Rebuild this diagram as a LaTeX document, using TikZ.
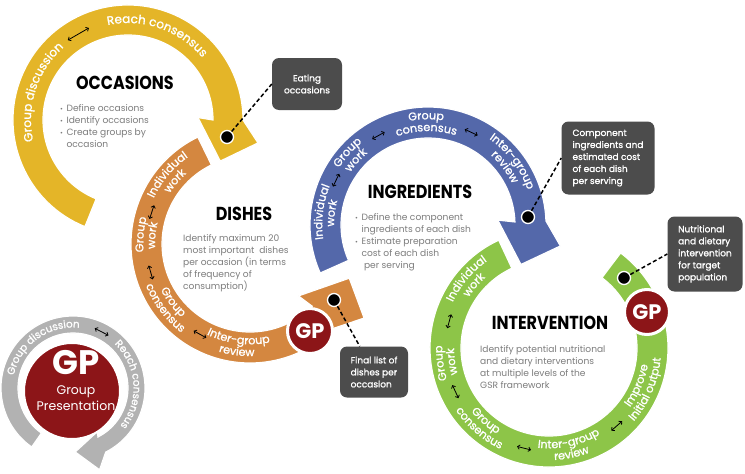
\documentclass[tikz,border=0pt]{standalone}
\usepackage{fontspec}
\setmainfont{Poppins}
\newfontfamily\labelfont{Poppins}[FakeBold=1.2]
\newfontfamily\headfont{Poppins}[FakeStretch=0.85]
\usetikzlibrary{arrows.meta,calc,decorations.text}
\definecolor{occyellow}{RGB}{228,181,40}
\definecolor{dishorange}{RGB}{212,135,64}
\definecolor{ingblue}{RGB}{84,104,170}
\definecolor{intgreen}{RGB}{141,197,72}
\definecolor{gpgrey}{RGB}{178,178,178}
\definecolor{gpred}{RGB}{140,21,24}
\definecolor{calloutgrey}{RGB}{76,76,76}
\definecolor{bodygrey}{RGB}{125,125,125}
% curved white labels inside the rings: clockwise reads with tops outward,
% counter-clockwise reads with tops towards the centre
\newcommand{\cwlabel}[5][11.2]{\path[decorate,decoration={text along path,text align=center,
  text color=white,text={|\labelfont\fontsize{#1}{#1}\selectfont|#5}}]
  ($(#2)+({#3+70}:{#4})$) arc[start angle={#3+70},end angle={#3-70},radius={#4}];}
\newcommand{\ccwlabel}[5][11.2]{\path[decorate,decoration={text along path,text align=center,
  text color=white,text={|\labelfont\fontsize{#1}{#1}\selectfont|#5}}]
  ($(#2)+({#3-70}:{#4})$) arc[start angle={#3-70},end angle={#3+70},radius={#4}];}
\newcommand{\cwpair}[5]{\cwlabel{#1}{#2}{#3+3.2}{#4}\cwlabel{#1}{#2}{#3-8.6}{#5}}
\newcommand{\ccwpair}[5]{\ccwlabel{#1}{#2}{#3-3.2}{#4}\ccwlabel{#1}{#2}{#3+8.6}{#5}}
\newcommand{\duo}[4]{\draw[twoway] ($(#1)+({#2+#4}:#3)$) -- ($(#1)+({#2-#4}:#3)$);}
\newcommand{\dotmark}{{\scriptsize\textbullet}\hspace{3.5pt}}

\begin{document}
\begin{tikzpicture}[x=1pt,y=1pt,
  ring/.style={draw=white,line width=1.2pt},
  twoway/.style={{Straight Barb[length=2.2pt,width=4.4pt]}-{Straight Barb[length=2.2pt,width=4.4pt]},
                 line width=0.8pt,black},
  spot/.style={circle,fill=black,draw=white,line width=1.3pt,minimum size=13pt,inner sep=0pt},
  callout/.style={fill=calloutgrey,rounded corners=7pt,text=white,align=left,inner sep=0pt,
                  font=\labelfont\fontsize{9}{12}\selectfont},
  leader/.style={black,line width=1.5pt,dash pattern=on 4pt off 2.5pt},
  gpbadge/.style={circle,fill=gpred,draw=white,line width=3pt,minimum size=45pt,inner sep=0pt,
                  text=white,font=\bfseries\fontsize{21}{21}\selectfont},
  headline/.style={font=\headfont\bfseries\fontsize{18.8}{18.8}\selectfont,inner sep=0pt},
  body/.style={text=bodygrey,align=left,inner sep=0pt,anchor=north west,
               font=\fontsize{9.1}{12.2}\selectfont}]

\fill[white] (0,0) rectangle (745,-474);
\useasboundingbox (0,0) rectangle (745,-474);

\coordinate (occ)  at (128,-120);
\coordinate (dish) at (250,-244);
\coordinate (ing)  at (428,-225);
\coordinate (int)  at (549,-348);
\coordinate (gp)   at (73,-388);

% the four rings and the small one of the key
\filldraw[fill=occyellow,ring] ($(occ)+(248:115)$) arc[start angle=248,end angle=0,radius=115]
  -- ($(occ)+(-10:132)$) -- ($(occ)+(-24:101)$) -- ($(occ)+(2:70)$)
  -- ($(occ)+(0:85)$) arc[start angle=0,end angle=248,radius=85] -- cycle;
\filldraw[fill=dishorange,ring] ($(dish)+(116:119)$) arc[start angle=116,end angle=315,radius=119]
  -- ($(dish)+(327:136)$) -- ($(dish)+(341:105)$) -- ($(dish)+(313:71)$)
  -- ($(dish)+(315:88)$) arc[start angle=315,end angle=116,radius=88] -- cycle;
\filldraw[fill=ingblue,ring] ($(ing)+(204:118)$) arc[start angle=204,end angle=2,radius=118]
  -- ($(ing)+(-9:134)$) -- ($(ing)+(-23:101)$) -- ($(ing)+(4:70)$)
  -- ($(ing)+(2:87)$) arc[start angle=2,end angle=204,radius=87] -- cycle;
\filldraw[fill=intgreen,ring] ($(int)+(115:119)$) arc[start angle=115,end angle=413,radius=119]
  -- ($(int)+(53:88)$) arc[start angle=413,end angle=115,radius=88] -- cycle;
\filldraw[fill=gpgrey,ring] ($(gp)+(235:72)$) arc[start angle=235,end angle=-63,radius=72]
  -- ($(gp)+(-72:86)$) -- ($(gp)+(-88:64)$) -- ($(gp)+(-61:50)$)
  -- ($(gp)+(-63:55)$) arc[start angle=-63,end angle=235,radius=55] -- cycle;

% ring labels
\cwlabel[12]{occ}{162}{97}{Group discussion}
\duo{occ}{120}{100}{7}
\cwlabel[12]{occ}{71}{97}{Reach consensus}

\cwpair{dish}{140}{103.5}{Individual}{work}
\duo{dish}{162}{103.5}{4}
\cwpair{dish}{175}{103.5}{Group}{work}
\duo{dish}{196}{103.5}{4}
\ccwpair{dish}{217}{103.5}{Group}{consensus}
\duo{dish}{241}{103.5}{4}
\ccwpair{dish}{263}{103.5}{Inter-group}{review}

\cwpair{ing}{173}{102.5}{Individual}{work}
\duo{ing}{154}{102.5}{4}
\cwpair{ing}{138}{102.5}{Group}{work}
\duo{ing}{119}{102.5}{4}
\cwpair{ing}{91}{102.5}{Group}{consensus}
\duo{ing}{65}{102.5}{4}
\cwpair{ing}{37}{102.5}{Inter-group}{review}

\cwpair{int}{140}{103.5}{Individual}{work}
\duo{int}{165}{103.5}{4}
\cwpair{int}{188}{103.5}{Group}{work}
\duo{int}{205}{103.5}{4}
\ccwpair{int}{229}{103.5}{Group}{consensus}
\duo{int}{256}{103.5}{4}
\ccwpair{int}{282}{103.5}{Inter-group}{review}
\duo{int}{311}{103.5}{4}
\ccwpair{int}{337}{103.5}{Improve}{Initial output}

\cwlabel[10.3]{gp}{126}{60.5}{Group discussion}
\duo{gp}{63}{63.5}{7}
\cwlabel[10.3]{gp}{4}{60.5}{Reach consensus}

% group presentation badges
\node[gpbadge] (gpdish) at (310,-331) {GP};
\node[gpbadge] (gpint) at (647,-312) {GP};
\node[circle,fill=gpred,draw=white,line width=2pt,minimum size=96pt] (gpkey) at (72,-391) {};
\node[text=white,font=\bfseries\fontsize{34}{34}\selectfont] (gpbig) at (76,-363) {GP};
\node[text=white,align=center,font=\fontsize{12.5}{15.5}\selectfont] (gpname) at (76,-398)
  {Group\\Presentation};

% headings and texts
\node[headline] (occtitle) at (125,-83) {OCCASIONS};
\node[body] (occtext) at (60,-104) {\dotmark Define occasions\\ \dotmark Identify occasions\\
  \dotmark Create groups by\\ \hphantom{\dotmark}occasion};
\node[headline] (dishtitle) at (244,-214) {DISHES};
\node[body] (dishtext) at (183,-234) {Identify maximum 20\\ most important\ \ dishes\\
  per occasion (in terms\\ of frequency of\\ consumption)};
\node[headline] (ingtitle) at (420,-192) {INGREDIENTS};
\node[body] (ingtext) at (355,-213) {\dotmark Define the component\\
  \hphantom{\dotmark}ingredients of each dish\\ \dotmark Estimate preparation\\
  \hphantom{\dotmark}cost of each dish\\ \hphantom{\dotmark}\ per serving};
\node[headline] (inttitle) at (550,-323) {INTERVENTION};
\node[body] (inttext) at (480,-345) {Identify potential nutritional\\ and dietary interventions\\
  at multiple levels of the\\ GSR framework};

% outputs of each step
\node[spot] (dotocc)  at (227,-137) {};
\node[spot] (dotdish) at (334,-300) {};
\node[spot] (doting)  at (528,-217) {};
\node[spot] (dotint)  at (624,-278) {};

\node[callout,align=center,minimum width=70pt,minimum height=52pt] (eat) at (307,-84)
  {Eating\\occasions};
\node[callout,minimum width=68pt,minimum height=51pt] (fin) at (374,-372)
  {Final list of\\dishes per\\occasion};
\node[callout,minimum width=93pt,minimum height=73pt] (comp) at (608,-158)
  {Component\\ingredients and\\estimated cost\\of each dish\\per serving};
\node[callout,minimum width=75pt,minimum height=75pt] (nutr) at (705,-254)
  {Nutritional\\and dietary\\intervention\\for target\\population};

\draw[leader] (dotocc) -- (eat.west);
\draw[leader] (dotdish) -- (fin);
\draw[leader] (doting) -- (comp.west);
\draw[leader] (dotint) -- (nutr.west);
\end{tikzpicture}
\end{document}
